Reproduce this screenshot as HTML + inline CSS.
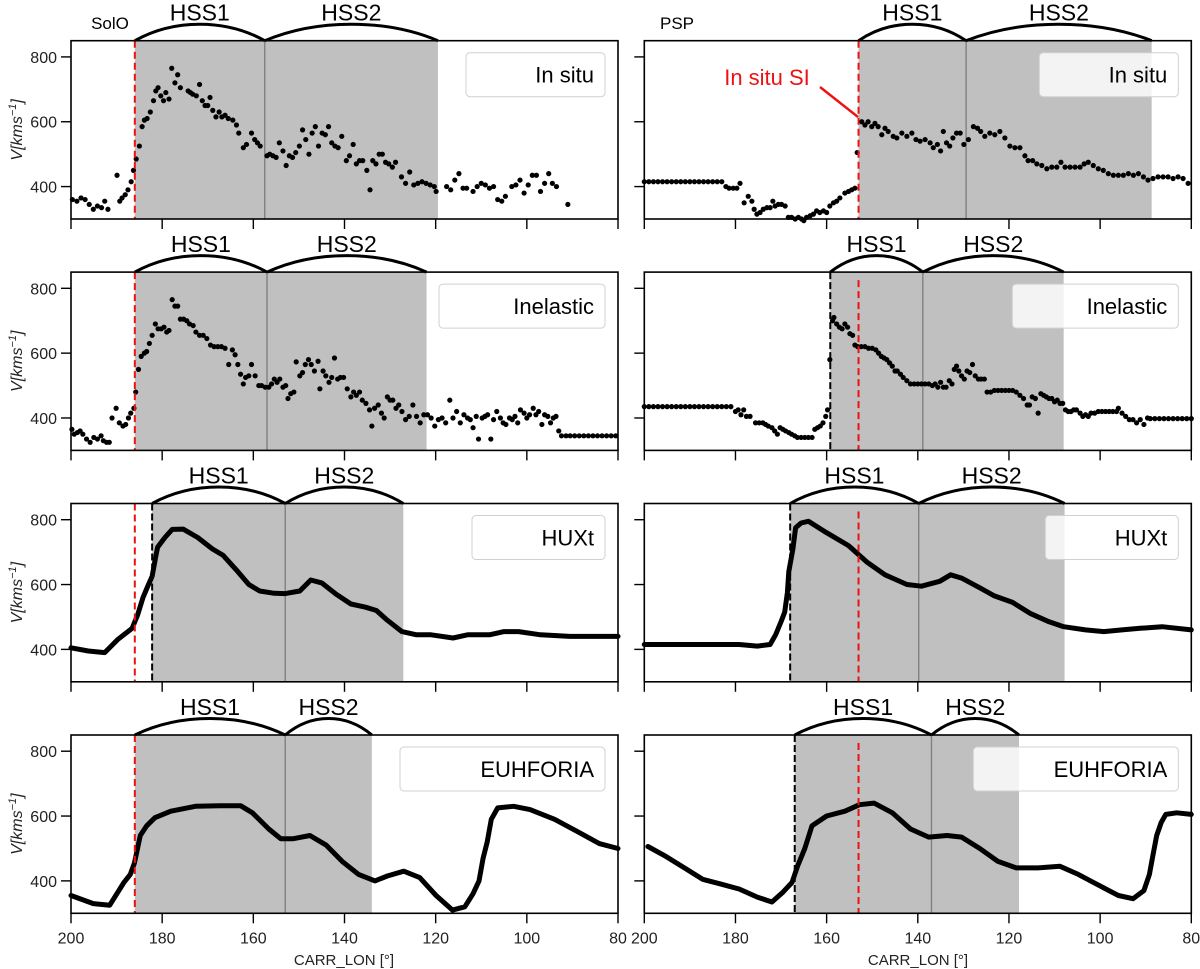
<!DOCTYPE html>
<html><head><meta charset="utf-8"><style>
body{margin:0;background:#fff;}
svg{display:block;font-family:"Liberation Sans","DejaVu Sans",sans-serif;}
</style></head><body>
<svg id="fig" width="1200" height="969" viewBox="0 0 1200 969">
<text x="110" y="29" font-size="17" text-anchor="middle">SolO</text>
<text x="677" y="29" font-size="17" text-anchor="middle">PSP</text>
<text x="344" y="965" font-size="15" text-anchor="middle" fill="#222">CARR_LON [°]</text>
<text x="918" y="965" font-size="15" text-anchor="middle" fill="#222">CARR_LON [°]</text>
</svg>
<script>
// ---- data ----
const yTicks=[800,600,400];
const xTicks=[200,180,160,140,120,100,80];
const legendLabels=["In situ","Inelastic","HUXt","EUHFORIA"];
const soloInsituLon=[199.7,198.7,197.8,196.9,196.0,195.1,194.2,193.3,192.6,191.9,189.9,189.3,188.8,188.1,187.5,186.8,186.3,185.7,185.0,184.4,183.9,183.3,182.6,181.9,181.4,180.9,180.3,179.7,179.2,178.5,177.9,177.2,176.6,176.0,174.3,173.8,173.3,172.5,171.8,171.2,170.6,170.0,169.5,168.9,168.2,167.5,166.9,166.2,165.5,164.5,163.7,163.2,162.2,161.5,160.4,159.7,159.1,158.5,157.0,156.4,155.7,155.0,154.3,153.5,152.8,152.1,151.4,150.7,149.9,149.2,148.5,147.8,147.1,146.4,145.7,144.9,144.2,143.5,142.8,142.1,141.4,140.6,139.6,138.9,138.1,137.4,136.7,136.0,135.1,134.4,133.8,133.1,132.4,131.7,131.0,130.3,129.5,128.8,127.5,126.6,125.7,124.8,123.9,123.0,122.1,121.2,120.3,119.9,117.6,116.7,115.8,114.9,114.0,113.2,111.8,110.9,110.0,109.1,108.2,107.3,106.4,105.5,104.7,103.3,102.4,101.5,100.6,99.7,98.8,97.9,97.0,96.1,95.2,94.4,93.5,91.0];
const soloInsituV=[360,355,365,360,345,330,340,335,355,330,435,355,365,375,390,415,450,485,525,585,605,610,630,665,695,705,680,665,690,670,765,720,745,705,695,690,685,680,715,665,650,650,675,635,615,630,615,620,610,605,590,565,520,530,565,545,535,525,495,500,495,490,535,510,465,495,490,505,525,575,545,500,565,585,525,565,560,585,535,525,520,555,480,495,530,470,480,480,450,390,480,470,500,500,475,470,460,475,430,410,445,405,410,415,410,405,400,385,400,390,420,440,395,395,385,400,410,405,395,400,360,355,370,400,405,420,380,405,435,435,385,410,440,410,400,345];
const soloInelLon=[199.8,199.3,198.6,198.0,197.4,196.6,195.8,195.0,194.2,193.4,192.9,192.2,191.6,191.0,190.1,189.4,188.6,188.0,187.4,186.9,186.2,185.8,185.2,184.6,183.9,183.4,182.8,182.2,181.5,180.9,180.2,179.6,179.0,178.5,177.8,177.2,176.6,176.0,175.3,174.6,174.0,173.2,172.6,171.8,171.0,170.2,169.4,168.6,167.8,167.0,166.2,165.4,164.6,164.0,163.4,162.8,162.2,161.7,161.0,160.4,159.6,158.8,158.2,157.4,156.6,156.0,155.4,154.8,154.2,153.5,152.9,152.4,151.8,151.1,150.6,149.8,149.2,148.6,147.9,147.3,146.6,145.8,145.4,144.7,144.1,143.4,142.8,142.2,141.5,140.9,140.2,139.4,138.6,138.0,137.4,136.7,136.1,135.3,134.5,134.0,133.4,132.6,131.9,131.3,130.6,130.0,129.4,128.7,128.1,127.4,126.6,125.8,125.0,124.2,123.4,122.6,121.8,121.0,120.2,119.4,118.6,117.8,116.9,116.2,115.4,114.6,113.8,113.0,112.4,111.8,111.1,110.6,109.8,109.2,108.6,107.9,107.3,106.6,105.8,105.2,104.6,103.8,103.2,102.6,102.0,101.4,100.6,100.0,99.4,98.6,98.0,97.4,96.7,96.1,95.4,94.8,94.2,93.6,93.0,92.4,91.4,90.5,89.5,88.5,87.5,86.5,85.5,84.5,83.5,82.5,81.5,80.5];
const soloInelV=[365,350,355,360,350,335,325,340,335,345,330,325,325,400,430,385,375,380,400,415,430,480,550,590,600,605,630,655,690,675,675,680,665,670,765,745,745,705,705,700,690,685,665,655,655,645,625,620,620,620,615,565,610,595,565,535,505,525,530,565,530,500,500,495,495,505,520,510,520,495,500,460,475,480,573,530,540,565,580,565,545,575,490,545,530,510,525,585,520,525,525,490,465,480,470,480,455,445,425,375,430,440,415,400,465,455,455,430,440,420,395,405,440,405,385,410,410,400,375,395,400,385,455,400,420,385,410,400,395,370,405,335,400,405,410,335,395,420,400,385,380,400,395,405,385,425,415,400,410,430,410,420,380,410,405,385,400,405,360,345,345,345,345,345,345,345,345,345,345,345,345,345];
const soloHuxtLon=[200,196.2,192.6,189.8,186.6,185.4,184.2,183.0,182.2,181.4,181.0,179.4,177.8,175.4,172.2,169.0,166.6,163.4,161.0,158.6,155.4,153.0,149.8,147.4,145.0,141.8,138.6,135.4,133.0,130.6,127.4,124.2,121.0,116.2,113.0,108.2,105.0,101.8,97.0,90.6,80];
const soloHuxtV=[405,395,390,430,465,506,560,600,625,687,715,745,770,771,745,710,690,640,600,580,573,572,580,614,605,570,540,530,520,490,455,445,445,435,445,445,455,455,445,440,440];
const soloEuhLon=[200,195.1,191.5,188.4,187.0,186.1,184.8,183.4,181.6,178.1,172.7,167.3,162.8,160.2,156.6,154.0,151.2,147.6,144.0,140.5,136.9,133.3,130.6,127.0,123.5,119.9,116.3,113.6,111.8,110.5,109.6,108.7,107.8,106.4,102.9,99.3,93.9,88.6,84.1,80];
const soloEuhV=[355,330,325,395,420,455,540,570,595,615,630,632,632,610,560,530,530,540,510,460,420,400,415,430,410,355,310,320,360,400,470,520,590,625,630,620,590,550,515,500];
const pspInsituLon=[200,199,198,197,196,195,194,193,192,191,190,189,188,187,186,185,184,183,182.1,181.4,180.5,179.7,179.0,178.1,177.2,176.4,175.9,175.3,174.6,173.9,173.1,172.4,171.8,171.3,170.6,169.9,169.1,168.4,167.7,166.9,166.2,165.5,165.0,164.4,163.6,162.9,162.2,161.5,160.7,160.0,159.3,158.5,157.8,157.1,156.0,155.2,154.5,153.8,153.3,152.3,151.6,150.9,150.1,149.4,148.7,147.9,147.2,146.5,145.4,144.6,143.5,142.4,141.3,140.4,139.5,138.4,137.3,136.6,135.7,135.0,134.4,133.7,133.0,132.3,131.5,130.7,129.9,128.9,127.8,126.9,126.2,125.3,124.2,123.1,122.0,120.9,119.8,118.7,117.6,116.5,115.8,114.8,113.9,112.8,111.7,110.6,109.5,108.6,107.7,106.6,105.5,104.4,103.5,102.6,101.5,100.4,99.3,98.2,97.1,96.0,94.9,93.8,92.7,91.6,90.5,89.5,88.4,87.3,86.2,85.1,84.0,82.9,81.8,80.7];
const pspInsituV=[415,415,415,415,415,415,415,415,415,415,415,415,415,415,415,415,415,415,400,395,395,395,410,350,370,355,330,315,320,330,335,335,355,340,345,345,340,305,305,300,305,300,295,305,310,315,325,320,325,320,340,350,355,365,380,385,390,395,505,600,590,600,585,595,585,560,580,570,555,550,565,555,565,545,540,545,535,520,530,510,570,535,525,550,565,565,530,545,585,580,570,555,565,560,570,550,525,520,520,495,480,480,470,465,455,460,460,475,460,460,460,460,470,475,465,455,450,440,435,435,435,440,435,440,430,420,425,430,430,430,425,430,425,410];
const pspInelLon=[200,199,198,197,196,195,194,193,192,191,190,189,188,187,186,185,184,183,182,181,180.0,179.4,178.8,178.2,177.6,176.8,175.6,174.8,174.0,173.4,172.8,172.0,171.4,170.8,170.2,169.6,169.0,168.3,167.7,167.0,166.4,165.6,164.8,164.0,163.2,162.6,162.0,161.4,160.8,160.2,159.8,159.3,158.7,158.4,157.8,157.2,156.6,156.0,155.4,154.9,154.3,153.8,153.2,152.4,151.6,150.8,150.0,149.2,148.6,148.0,147.4,146.8,146.2,145.6,145.0,144.5,143.8,143.2,142.4,141.6,140.8,140.0,139.2,138.4,137.6,136.8,136.2,135.6,135.0,134.4,133.8,133.1,132.5,132.0,131.5,131.0,130.4,129.8,129.2,128.6,128.0,127.4,126.7,126.1,125.4,124.8,124.0,123.2,122.4,121.6,120.8,120.0,119.2,118.4,117.6,116.8,116.0,115.5,114.9,114.2,113.6,113.0,112.4,111.8,111.2,110.6,110.0,109.4,108.8,108.2,107.6,107.0,106.4,105.8,105.2,104.4,103.8,103.2,102.6,102.0,101.2,100.4,99.6,98.8,98.0,97.2,96.4,96.0,95.2,94.4,93.6,92.8,92.0,91.2,90.4,89.6,89,88,87,86,85,84,83,82,81,80];
const pspInelV=[435,435,435,435,435,435,435,435,435,435,435,435,435,435,435,435,435,435,435,435,420,425,410,425,405,405,385,385,385,380,375,370,360,350,370,365,360,355,350,345,340,340,340,340,340,365,370,375,385,405,425,580,700,710,690,680,675,690,680,660,655,625,620,620,620,615,615,610,600,590,585,580,570,560,545,545,535,525,515,505,505,505,505,505,505,500,505,495,510,495,495,515,505,550,560,545,530,520,545,540,565,530,520,520,520,480,480,485,485,485,485,485,485,480,470,460,440,440,465,460,415,475,470,465,460,460,450,455,445,445,425,420,420,425,425,415,405,410,405,415,415,420,420,420,420,420,420,430,415,405,395,395,385,395,380,400,398,398,398,398,398,398,398,398,398,398];
const pspHuxtLon=[200,187.2,179.2,175.2,172.4,171.2,170.0,169.2,168.6,168.3,167.4,166.8,165.6,164.0,160.0,155.2,151.2,147.2,142.4,139.2,135.2,132.8,130.4,126.4,123.2,119.2,115.2,111.2,108.0,103.2,99.2,95.2,91.2,86.4,80];
const pspHuxtV=[415,415,415,410,415,445,485,515,575,640,710,775,790,795,760,720,670,630,600,595,610,630,620,590,565,545,510,485,470,460,455,460,465,470,460];
const pspEuhLon=[199.2,195.2,191.2,187.2,183.2,179.2,175.2,172.0,169.6,167.6,166.4,164.8,163.2,160.0,156.0,152.8,149.6,145.6,141.6,137.6,133.6,130.4,126.4,122.4,118.4,113.6,108.8,104.8,100.8,96.0,92.8,90.4,89.2,88.4,87.6,86.6,85.6,83.2,80];
const pspEuhV=[506,475,440,405,390,375,350,335,365,395,445,500,570,600,615,635,640,610,560,535,540,535,500,460,440,440,445,420,390,355,345,370,420,480,540,580,605,610,605];
// event longitudes per panel: [shadeStart, boundary, shadeEnd, redLine, blackDash]
const soloEvents=[[186,157.5,119.5,186,null],[186,157,122,186,null],[182.2,153,127.1,186,182.2],[186,153,134,186,null]];
const pspEvents=[[153,129.4,88.7,153,null],[159.2,138.9,108,153,159.2],[168,139.8,107.8,153,168],[167,137,117.8,153,167]];

const NS='http://www.w3.org/2000/svg';
const svg=document.getElementById('fig');
const colX=[[71,618],[644.3,1191.3]];
const rowTop=[40.7,272.1,503.5,735];
const H=178.3, VMIN=300, VMAX=850, LMAX=200, LMIN=80;
function xs(lon,c){return colX[c][0]+(LMAX-lon)/(LMAX-LMIN)*(colX[c][1]-colX[c][0]);}
function ys(v,r){return rowTop[r]+(VMAX-v)/(VMAX-VMIN)*H;}
function mk(tag,attrs,parent){const e=document.createElementNS(NS,tag);for(const k in attrs)e.setAttribute(k,attrs[k]);(parent||svg).appendChild(e);return e;}

const series=[[ [soloInsituLon,soloInsituV,'dots'],[soloInelLon,soloInelV,'dots'],[soloHuxtLon,soloHuxtV,'line'],[soloEuhLon,soloEuhV,'line'] ],
              [ [pspInsituLon,pspInsituV,'dots'],[pspInelLon,pspInelV,'dots'],[pspHuxtLon,pspHuxtV,'line'],[pspEuhLon,pspEuhV,'line'] ]];
const events=[soloEvents,pspEvents];
const legendW=[139,166,133,205];

for(let c=0;c<2;c++){for(let r=0;r<4;r++){
  const g=mk('g',{});
  
  
  const x0=colX[c][0],x1=colX[c][1],top=rowTop[r],bot=top+H;
  const ev=events[c][r];
  const xa=xs(ev[0],c),xb=xs(ev[1],c),xe=xs(ev[2],c);
  const sh=mk('rect',{x:xa,y:top,width:xe-xa,height:H,fill:'#c0c0c0'},g);
  
  
  const bl=mk('line',{x1:xb,x2:xb,y1:top,y2:bot,stroke:'#808080','stroke-width':1.4},g);
  
  
  [[xa,xb,'HSS1'],[xb,xe,'HSS2']].forEach(([p,q,lab])=>{
    const w=q-p;
    const br=mk('path',{d:`M${p},${top} C${p+w*0.3},${top-22} ${q-w*0.3},${top-22} ${q},${top}`,fill:'none',stroke:'#000','stroke-width':3},g);
    
    
    const t=mk('text',{x:(p+q)/2,y:top-20,'font-size':23,'text-anchor':'middle'},g);
    t.textContent=lab;
    
    
  });
  const lw=legendW[r];
  const lg=mk('rect',{x:x1-13-lw,y:top+12,width:lw,height:44,rx:4,fill:'#fff','fill-opacity':0.8,stroke:'#d0d0d0','stroke-width':1},g);
  
  
  const lt=mk('text',{x:x1-24,y:top+42,'font-size':22,'text-anchor':'end'},g);
  lt.textContent=legendLabels[r];
  
  
  const [L,V,kind]=series[c][r];
  const n=Math.min(L.length,V.length);
  if(kind==='dots'){
    for(let i=0;i<n;i++){
      const d=mk('circle',{cx:xs(L[i],c),cy:ys(V[i],r),r:2.6,fill:'#000'},g);
      
      
    }
  } else {
    let pts=[];for(let i=0;i<n;i++)pts.push(xs(L[i],c).toFixed(1)+','+ys(V[i],r).toFixed(1));
    const pl=mk('polyline',{points:pts.join(' '),fill:'none',stroke:'#000','stroke-width':5,'stroke-linejoin':'round','stroke-linecap':'round'},g);
    
    
  }
  if(ev[4]!==null){
    const k=mk('line',{x1:xs(ev[4],c),x2:xs(ev[4],c),y1:top,y2:bot,stroke:'#000','stroke-width':2,'stroke-dasharray':'7,3'},g);
    
    
  }
  const rl=mk('line',{x1:xs(ev[3],c),x2:xs(ev[3],c),y1:top+(ev[4]!==null&&c===1?8:0),y2:bot,stroke:'#ee1111','stroke-width':2,'stroke-dasharray':'7,4'},g);
  
  
  const fr=mk('rect',{x:x0,y:top,width:x1-x0,height:H,fill:'none',stroke:'#000','stroke-width':1.6},g);
  
  
  yTicks.forEach(v=>{
    const y=ys(v,r);
    const tk=mk('line',{x1:x0-10,x2:x0,y1:y,y2:y,stroke:'#000','stroke-width':1.4},g);
    
    
    if(c===0){
      const tl=mk('text',{x:x0-14,y:y+6,'font-size':16,'text-anchor':'end',fill:'#222'},g);
      tl.textContent=v;
      
      
    }
  });
  xTicks.forEach(l=>{
    const x=xs(l,c);
    const tk=mk('line',{x1:x,x2:x,y1:bot,y2:bot+10,stroke:'#000','stroke-width':1.4},g);
    
    
    if(r===3){
      const tl=mk('text',{x:x,y:bot+30,'font-size':16,'text-anchor':'middle',fill:'#222'},g);
      tl.textContent=l;
      
      
    }
  });
  if(c===0){
    const cy=top+H/2;
    const yl=mk('text',{x:0,y:0,'font-size':16,'text-anchor':'middle','font-style':'italic',fill:'#222',transform:`translate(22,${cy}) rotate(-90)`},g);
    yl.innerHTML='V[kms<tspan dy="-6" font-size="11">−1</tspan><tspan dy="6">]</tspan>';
    
    
  }
}}
const an=mk('text',{x:767,y:85,'font-size':22,'text-anchor':'middle',fill:'#ee1111'});
an.textContent='In situ SI';


const al=mk('line',{x1:820,y1:87,x2:858,y2:117,stroke:'#ee1111','stroke-width':2.4});


</script>
</body></html>
